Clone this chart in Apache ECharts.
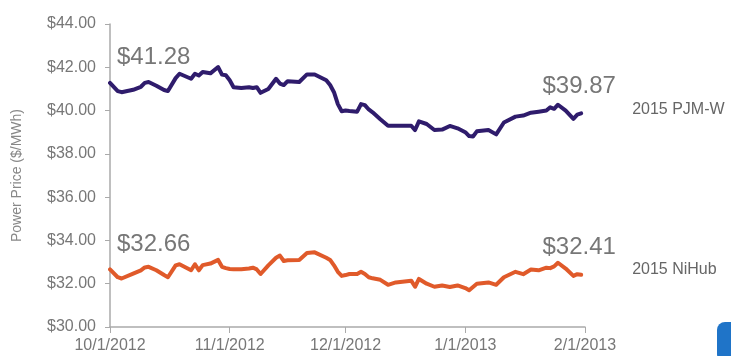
<!DOCTYPE html>
<html>
<head>
<meta charset="utf-8">
<script src="https://cdn.jsdelivr.net/npm/echarts@6/dist/echarts.min.js"></script>
<style>html,body{margin:0;padding:0;background:#fff;}#c{width:731px;height:356px;}</style>
</head>
<body>
<div id="c"></div>
<script>
const dates = ["2012-10-01","2012-10-03","2012-10-04","2012-10-07","2012-10-09","2012-10-10","2012-10-11","2012-10-13","2012-10-15","2012-10-16","2012-10-18","2012-10-19","2012-10-22","2012-10-23","2012-10-24","2012-10-25","2012-10-27","2012-10-29","2012-10-30","2012-10-31","2012-11-01","2012-11-02","2012-11-04","2012-11-06","2012-11-07","2012-11-08","2012-11-09","2012-11-11","2012-11-13","2012-11-14","2012-11-15","2012-11-16","2012-11-19","2012-11-21","2012-11-23","2012-11-26","2012-11-27","2012-11-28","2012-11-29","2012-11-30","2012-12-01","2012-12-02","2012-12-04","2012-12-05","2012-12-06","2012-12-07","2012-12-08","2012-12-10","2012-12-12","2012-12-14","2012-12-18","2012-12-19","2012-12-20","2012-12-22","2012-12-24","2012-12-26","2012-12-28","2012-12-30","2013-01-01","2013-01-02","2013-01-03","2013-01-04","2013-01-07","2013-01-09","2013-01-11","2013-01-14","2013-01-16","2013-01-18","2013-01-20","2013-01-22","2013-01-23","2013-01-24","2013-01-25","2013-01-27","2013-01-29","2013-01-30","2013-01-31"];
const pjmW = [41.28,40.9,40.85,40.96,41.1,41.28,41.32,41.15,40.95,40.9,41.5,41.7,41.47,41.7,41.62,41.78,41.72,42.01,41.66,41.63,41.4,41.08,41.04,41.08,41.04,41.08,40.82,41.0,41.47,41.25,41.18,41.36,41.32,41.67,41.67,41.4,41.18,40.85,40.3,39.97,40.0,39.98,39.95,40.3,40.25,40.05,39.92,39.6,39.3,39.3,39.3,39.1,39.5,39.38,39.1,39.12,39.29,39.18,39.0,38.82,38.8,39.04,39.1,38.9,39.45,39.72,39.77,39.9,39.95,40.0,40.15,40.08,40.27,40.0,39.62,39.81,39.87];
const niHub = [32.66,32.3,32.24,32.47,32.62,32.75,32.78,32.62,32.4,32.3,32.85,32.9,32.62,32.9,32.62,32.86,32.93,33.1,32.78,32.72,32.68,32.67,32.67,32.7,32.74,32.66,32.45,32.85,33.2,33.3,33.05,33.08,33.1,33.42,33.45,33.2,33.1,32.85,32.55,32.36,32.4,32.45,32.45,32.55,32.45,32.3,32.25,32.18,31.95,32.06,32.14,31.86,32.22,32.0,31.86,31.92,31.85,31.92,31.8,31.7,31.85,32.0,32.06,31.95,32.3,32.55,32.44,32.66,32.62,32.74,32.72,32.8,32.97,32.7,32.36,32.44,32.41];
const tickDates = ["2012-10-01","2012-11-01","2012-12-01","2013-01-01","2013-02-01"];
const seriesNames = ["2015 PJM-W","2015 NiHub"];

function ts(s){const p=s.split('-').map(Number);return Date.UTC(p[0],p[1]-1,p[2]);}
function fmtDate(v){const d=new Date(v);return (d.getUTCMonth()+1)+'/'+d.getUTCDate()+'/'+d.getUTCFullYear();}
function pairs(vals){return dates.map((d,i)=>[ts(d),vals[i]]);}
function money(v){return '$'+Number(v).toFixed(2);}

const tickVals = tickDates.map(ts);
const font = 'Liberation Sans, Arial, sans-serif';

function mkSeries(name, vals, color, endOff){
  const n = vals.length-1;
  return {
    name: name, type:'line', data: pairs(vals), showSymbol:false, symbol:'none',
    lineStyle:{color:color,width:4,join:'round',cap:'round'},
    itemStyle:{color:color},
    endLabel:{show:true,formatter:name,distance:51,offset:[0,endOff],color:'#666',fontSize:16,fontFamily:font},
    markPoint:{
      symbol:'circle', symbolSize:1, itemStyle:{color:'rgba(0,0,0,0)'},
      label:{show:true,formatter:p=>money(p.value),color:'#777',fontSize:24,fontFamily:font,position:'top'},
      data:[
        {coord:[ts(dates[0]),vals[0]],value:vals[0],label:{align:'left',offset:[7,-8]}},
        {coord:[ts(dates[n]),vals[n]],value:vals[n],label:{align:'center',offset:[-2,-10]}}
      ]
    }
  };
}

const chart = echarts.init(document.getElementById('c'),null,{renderer:'canvas'});
chart.setOption({
  animation:false,
  backgroundColor:'#fff',
  grid:{left:110,right:146,top:24,bottom:29,containLabel:false},
  xAxis:{
    type:'value', min:tickVals[0], max:tickVals[tickVals.length-1],
    axisLine:{show:true,lineStyle:{color:'#aaa',width:1.5}},
    axisTick:{show:true,customValues:tickVals,length:6,lineStyle:{color:'#aaa'}},
    axisLabel:{customValues:tickVals,formatter:fmtDate,color:'#777',fontSize:16,fontFamily:font,margin:11},
    splitLine:{show:false}
  },
  yAxis:{
    type:'value', min:30, max:44, interval:2,
    name:'Power Price ($/MWh)', nameLocation:'middle', nameGap:86,
    nameTextStyle:{color:'#888',fontSize:14,fontFamily:font},
    axisLine:{show:true,lineStyle:{color:'#aaa',width:1.5}},
    axisTick:{show:true,length:5,lineStyle:{color:'#aaa'}},
    axisLabel:{formatter:money,color:'#777',fontSize:16,fontFamily:font,margin:14},
    splitLine:{show:false}
  },
  series:[
    mkSeries(seriesNames[0], pjmW, '#2f1c6c', -4),
    mkSeries(seriesNames[1], niHub, '#e05a2a', -5)
  ],
  graphic:[{type:'rect',left:717,top:322,shape:{width:30,height:40,r:8},style:{fill:'#1f74c8'},silent:true}]
});
</script>
</body>
</html>
